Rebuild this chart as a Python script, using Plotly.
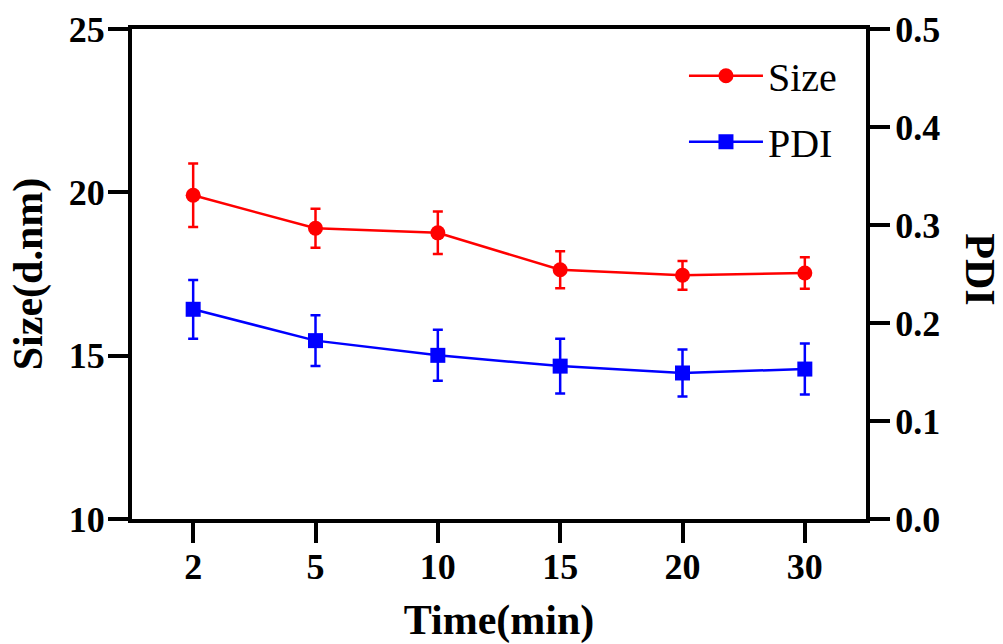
import plotly.graph_objects as go

# Sampling time points (min)
time_labels = ["2", "5", "10", "15", "20", "30"]

# Particle size (d.nm) with standard deviation
size_mean = [19.91, 18.90, 18.76, 17.63, 17.46, 17.53]
size_sd = [0.97, 0.60, 0.65, 0.57, 0.44, 0.48]

# Polydispersity index with standard deviation
pdi_mean = [0.214, 0.182, 0.167, 0.156, 0.149, 0.153]
pdi_sd = [0.030, 0.026, 0.026, 0.028, 0.024, 0.026]

SERIF = "Liberation Serif"
tick_font = dict(family=SERIF, size=36, color="black", weight="bold")
title_font = dict(family=SERIF, size=42, color="black", weight="bold")

fig = go.Figure()

fig.add_trace(go.Scatter(
    x=time_labels, y=size_mean, name="Size", mode="lines+markers",
    line=dict(color="#ff0000", width=2.5),
    marker=dict(symbol="circle", size=15, color="#ff0000"),
    error_y=dict(type="data", array=size_sd, visible=True,
                 color="#ff0000", thickness=2.5, width=5),
    yaxis="y", legendgroup="a",
))

fig.add_trace(go.Scatter(
    x=time_labels, y=pdi_mean, name="PDI", mode="lines+markers",
    line=dict(color="#0000ff", width=2.5),
    marker=dict(symbol="square", size=15, color="#0000ff"),
    error_y=dict(type="data", array=pdi_sd, visible=True,
                 color="#0000ff", thickness=2.5, width=5),
    yaxis="y2", legendgroup="b",
))

fig.update_layout(
    width=1003, height=644,
    margin=dict(l=132, r=137, t=29, b=125),
    plot_bgcolor="white", paper_bgcolor="white",
    font=dict(family=SERIF, color="black"),
    showlegend=True,
    legend=dict(
        x=0.752, y=0.971, xanchor="left", yanchor="top",
        font=dict(family=SERIF, size=40, color="black"),
        bgcolor="rgba(0,0,0,0)", tracegroupgap=11, itemwidth=74,
    ),
    xaxis=dict(
        type="category", range=[-0.5, 5.5], automargin=False,
        showline=True, linecolor="black", linewidth=4, mirror=True,
        ticks="outside", ticklen=20, tickwidth=4, tickcolor="black",
        tickfont=tick_font, showgrid=False, zeroline=False,
        ticklabelstandoff=-7,
        title=dict(text="Time(min)", standoff=24, font=title_font),
    ),
    yaxis=dict(
        range=[10, 25], tickvals=[10, 15, 20, 25], automargin=False,
        showline=True, linecolor="black", linewidth=4,
        ticks="outside", ticklen=20, tickwidth=4, tickcolor="black",
        tickfont=tick_font, showgrid=False, zeroline=False,
        ticklabelstandoff=-4,
        title=dict(text="Size(d.nm)", standoff=14, font=title_font),
    ),
    yaxis2=dict(
        range=[0, 0.5], tickvals=[0, 0.1, 0.2, 0.3, 0.4, 0.5], automargin=False,
        tickformat=".1f", overlaying="y", side="right",
        showline=True, linecolor="black", linewidth=4,
        ticks="outside", ticklen=20, tickwidth=4, tickcolor="black",
        tickfont=tick_font, showgrid=False, zeroline=False,
        ticklabelstandoff=-2,
    ),
    annotations=[dict(
        text="PDI", textangle=90, xref="paper", yref="paper",
        x=1.155, y=0.51, xanchor="center", yanchor="middle", showarrow=False,
        font=title_font,
    )],
)

fig.write_html("out.html")
